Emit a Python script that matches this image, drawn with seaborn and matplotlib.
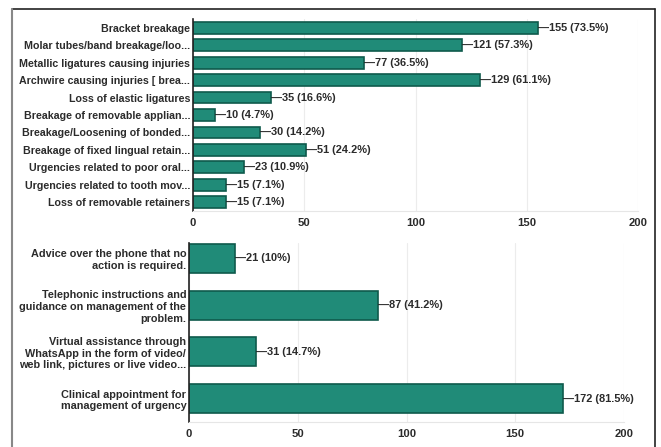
import matplotlib
matplotlib.use("Agg")
import matplotlib.pyplot as plt
import seaborn as sns
import pandas as pd
from matplotlib.lines import Line2D

# DATA

urgency_labels = [
    "Bracket breakage",
    "Molar tubes/band breakage/loo...",
    "Metallic ligatures causing injuries",
    "Archwire causing injuries [ brea...",
    "Loss of elastic ligatures",
    "Breakage of removable applian...",
    "Breakage/Loosening of bonded...",
    "Breakage of fixed lingual retain...",
    "Urgencies related to poor oral...",
    "Urgencies related to tooth mov...",
    "Loss of removable retainers",
]
urgency_counts = [155, 121, 77, 129, 35, 10, 30, 51, 23, 15, 15]
urgency_pct = ["73.5%", "57.3%", "36.5%", "61.1%", "16.6%", "4.7%",
               "14.2%", "24.2%", "10.9%", "7.1%", "7.1%"]

action_labels = [
    "Advice over the phone that no\naction is required.",
    "Telephonic instructions and\nguidance on management of the\nproblem.",
    "Virtual assistance through\nWhatsApp in the form of video/\nweb link, pictures or live video...",
    "Clinical appointment for\nmanagement of urgency",
]
action_counts = [21, 87, 31, 172]
action_pct = ["10%", "41.2%", "14.7%", "81.5%"]

xticks = [0, 50, 100, 150, 200]

sns.set_style("white")
plt.rcParams['font.family'] = ['Liberation Sans', 'DejaVu Sans']

bar_color = '#208b78'
edge_color = '#0e5a4c'
text_color = '#2b2b2b'
fs = 7.7

fig = plt.figure(figsize=(6.61, 4.47), dpi=100)
ax1 = fig.add_axes([193/661, 1 - 211/447, (638 - 193)/661, (211 - 19)/447])
ax2 = fig.add_axes([189/661, 1 - 422/447, (624 - 189)/661, (422 - 243)/447])

df1 = pd.DataFrame({'label': urgency_labels, 'count': urgency_counts})
df2 = pd.DataFrame({'label': action_labels, 'count': action_counts})

sns.barplot(data=df1, x='count', y='label', ax=ax1, color=bar_color,
            saturation=1, width=0.68, edgecolor=edge_color, linewidth=1.2)
sns.barplot(data=df2, x='count', y='label', ax=ax2, color=bar_color,
            saturation=1, width=0.62, edgecolor=edge_color, linewidth=1.2)

ax1.set_ylim(len(urgency_labels) - 0.5, -0.5)
ax2.set_ylim(len(action_labels) - 0.5, -0.33)

for ax, counts, pcts in [(ax1, urgency_counts, urgency_pct),
                         (ax2, action_counts, action_pct)]:
    for i, (c, p) in enumerate(zip(counts, pcts)):
        ax.annotate(f"\u2014{c} ({p})", xy=(c, i), xytext=(0, 0),
                    textcoords='offset points', va='center', ha='left',
                    fontsize=fs + 0.2, fontweight='bold', color=text_color)
    ax.set_xlim(0, 200)
    ax.set_xticks(xticks)
    ax.grid(axis='x', color='#ececec', linewidth=0.8)
    ax.set_axisbelow(True)
    ax.set_xlabel('')
    ax.set_ylabel('')
    for s in ['top', 'right']:
        ax.spines[s].set_visible(False)
    ax.spines['bottom'].set_color('#e6e6e6')
    ax.spines['left'].set_color('#222222')
    ax.spines['left'].set_linewidth(1.2)
    ax.tick_params(axis='both', length=0, labelsize=fs, colors=text_color)
    ax.tick_params(axis='y', pad=2)
    ax.tick_params(axis='x', pad=5, labelsize=fs + 0.4)
    for t in ax.get_xticklabels() + ax.get_yticklabels():
        t.set_fontweight('bold')

ax2.tick_params(axis='y', labelsize=7.8)
for t in ax2.get_yticklabels():
    t.set_multialignment('right')
    t.set_linespacing(1.2)

# outer frame
fig.add_artist(Line2D([12/661, 655/661], [1 - 9/447, 1 - 9/447],
                      transform=fig.transFigure, color='#222222', lw=1.2))
fig.add_artist(Line2D([12/661, 12/661], [0, 1 - 9/447],
                      transform=fig.transFigure, color='#888888', lw=1.5))
fig.add_artist(Line2D([655/661, 655/661], [0, 1 - 9/447],
                      transform=fig.transFigure, color='#222222', lw=1.2))

fig.savefig("out.png", dpi=100, facecolor='white')
